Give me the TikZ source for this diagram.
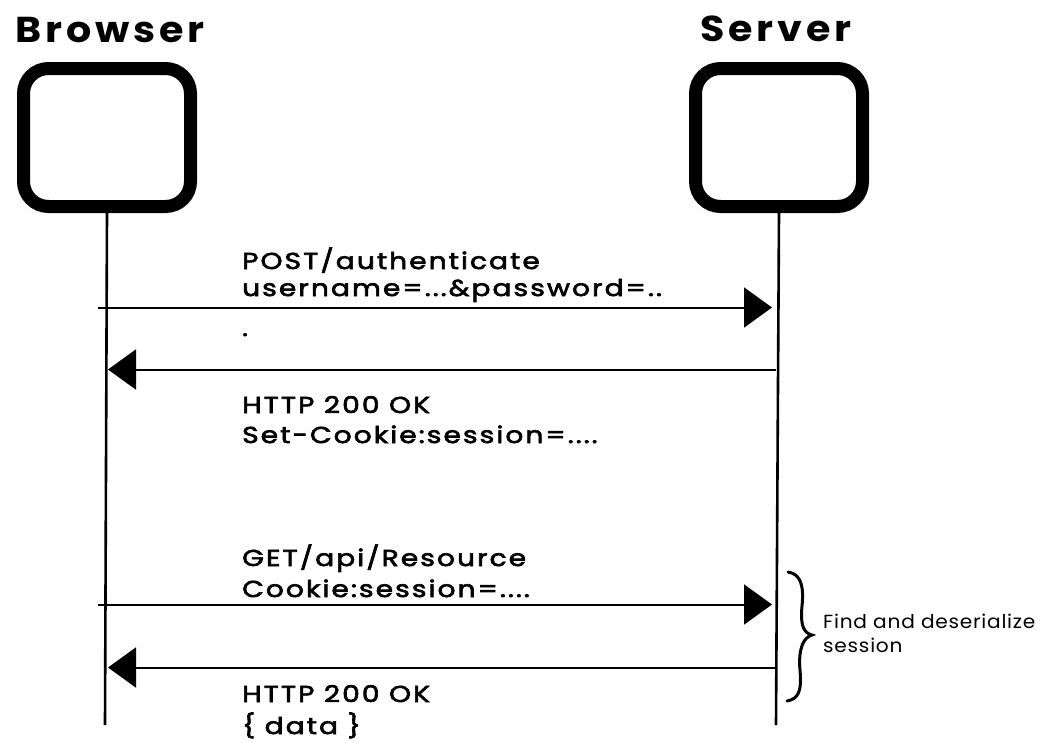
\documentclass[tikz,border=0pt]{standalone}
\usepackage{fontspec}
\setmainfont{Poppins}
\newfontfamily\titlefont{Poppins}[FakeStretch=1.1, LetterSpace=11]
\newfontfamily\labelfont{Poppins}[FakeStretch=1.22, LetterSpace=9, FakeBold=2.8]
\newfontfamily\notefont{Poppins}[FakeStretch=1.06, LetterSpace=4]
\usetikzlibrary{arrows.meta}
\tikzset{
  actorbox/.style={draw=black, line width=13pt, rounded corners=25pt, minimum width=167pt, minimum height=138pt, inner sep=0pt},
  titletext/.style={anchor=base west, inner sep=0pt, font=\titlefont\fontsize{36}{40}\selectfont\bfseries},
  msgtext/.style={anchor=base west, inner sep=0pt, font=\labelfont\fontsize{23}{28}\selectfont},
  notetext/.style={anchor=base west, inner sep=0pt, font=\notefont\fontsize{19}{24}\selectfont},
  lifeline/.style={line width=2.6pt, black},
  msg/.style={line width=2pt, black, -{Triangle[length=28pt, width=40pt]}},
  bracepath/.style={line width=3pt, black, line cap=round},
}
\begin{document}
\begin{tikzpicture}[x=1pt, y=-1pt]
\useasboundingbox (0,0) rectangle (1041,742);
\fill[white] (0,0) rectangle (1041,742);

% actors
\node[titletext] (btitle) at (15,42) {Browser};
\node[titletext] (stitle) at (700,41) {Server};
\node[actorbox] (bbox) at (107,137.5) {};
\node[actorbox] (sbox) at (779,137.5) {};

% lifelines
\coordinate (bbot) at (105,725);
\coordinate (sbot) at (776,725);
\draw[lifeline] (bbox.south) -- (bbot);
\draw[lifeline] (sbox.south) -- (sbot);

% message 1
\coordinate (b1) at (98,307.5);
\coordinate (s1) at (776,307.5);
\draw[msg, shorten >=4pt] (b1) -- (s1);
\node[msgtext] (m1a) at (242,269) {POST/authenticate};
\node[msgtext] (m1b) at (242,296) {username=...\&password=..};
\node[msgtext] (m1c) at (242,336) {.};

% message 2
\coordinate (s2) at (776,369.5);
\coordinate (b2) at (105,369.5);
\draw[msg, shorten >=3pt] (s2) -- (b2);
\node[msgtext] (m2a) at (242,413) {HTTP 200 OK};
\node[msgtext] (m2b) at (242,443) {Set-Cookie:session=....};

% message 3
\coordinate (b3) at (98,604.5);
\coordinate (s3) at (776,604.5);
\draw[msg, shorten >=4pt] (b3) -- (s3);
\node[msgtext] (m3a) at (242,566) {GET/api/Resource};
\node[msgtext] (m3b) at (242,597) {Cookie:session=....};

% message 4
\coordinate (s4) at (776,667.5);
\coordinate (b4) at (105,667.5);
\draw[msg, shorten >=3pt] (s4) -- (b4);
\node[msgtext] (m4a) at (242,702) {HTTP 200 OK};
\node[msgtext] (m4b) at (242,734) {\{ data \}};

% brace and note
\draw[bracepath] (788,572) .. controls (801,574) and (804,586) .. (802,606)
  .. controls (800,626) and (804,633) .. (812,635)
  .. controls (804,637) and (798,648) .. (800,670)
  .. controls (802,692) and (798,699) .. (787,701);
\node[notetext] (n1) at (823,628) {Find and deserialize};
\node[notetext] (n2) at (823,652) {session};
\end{tikzpicture}
\end{document}
